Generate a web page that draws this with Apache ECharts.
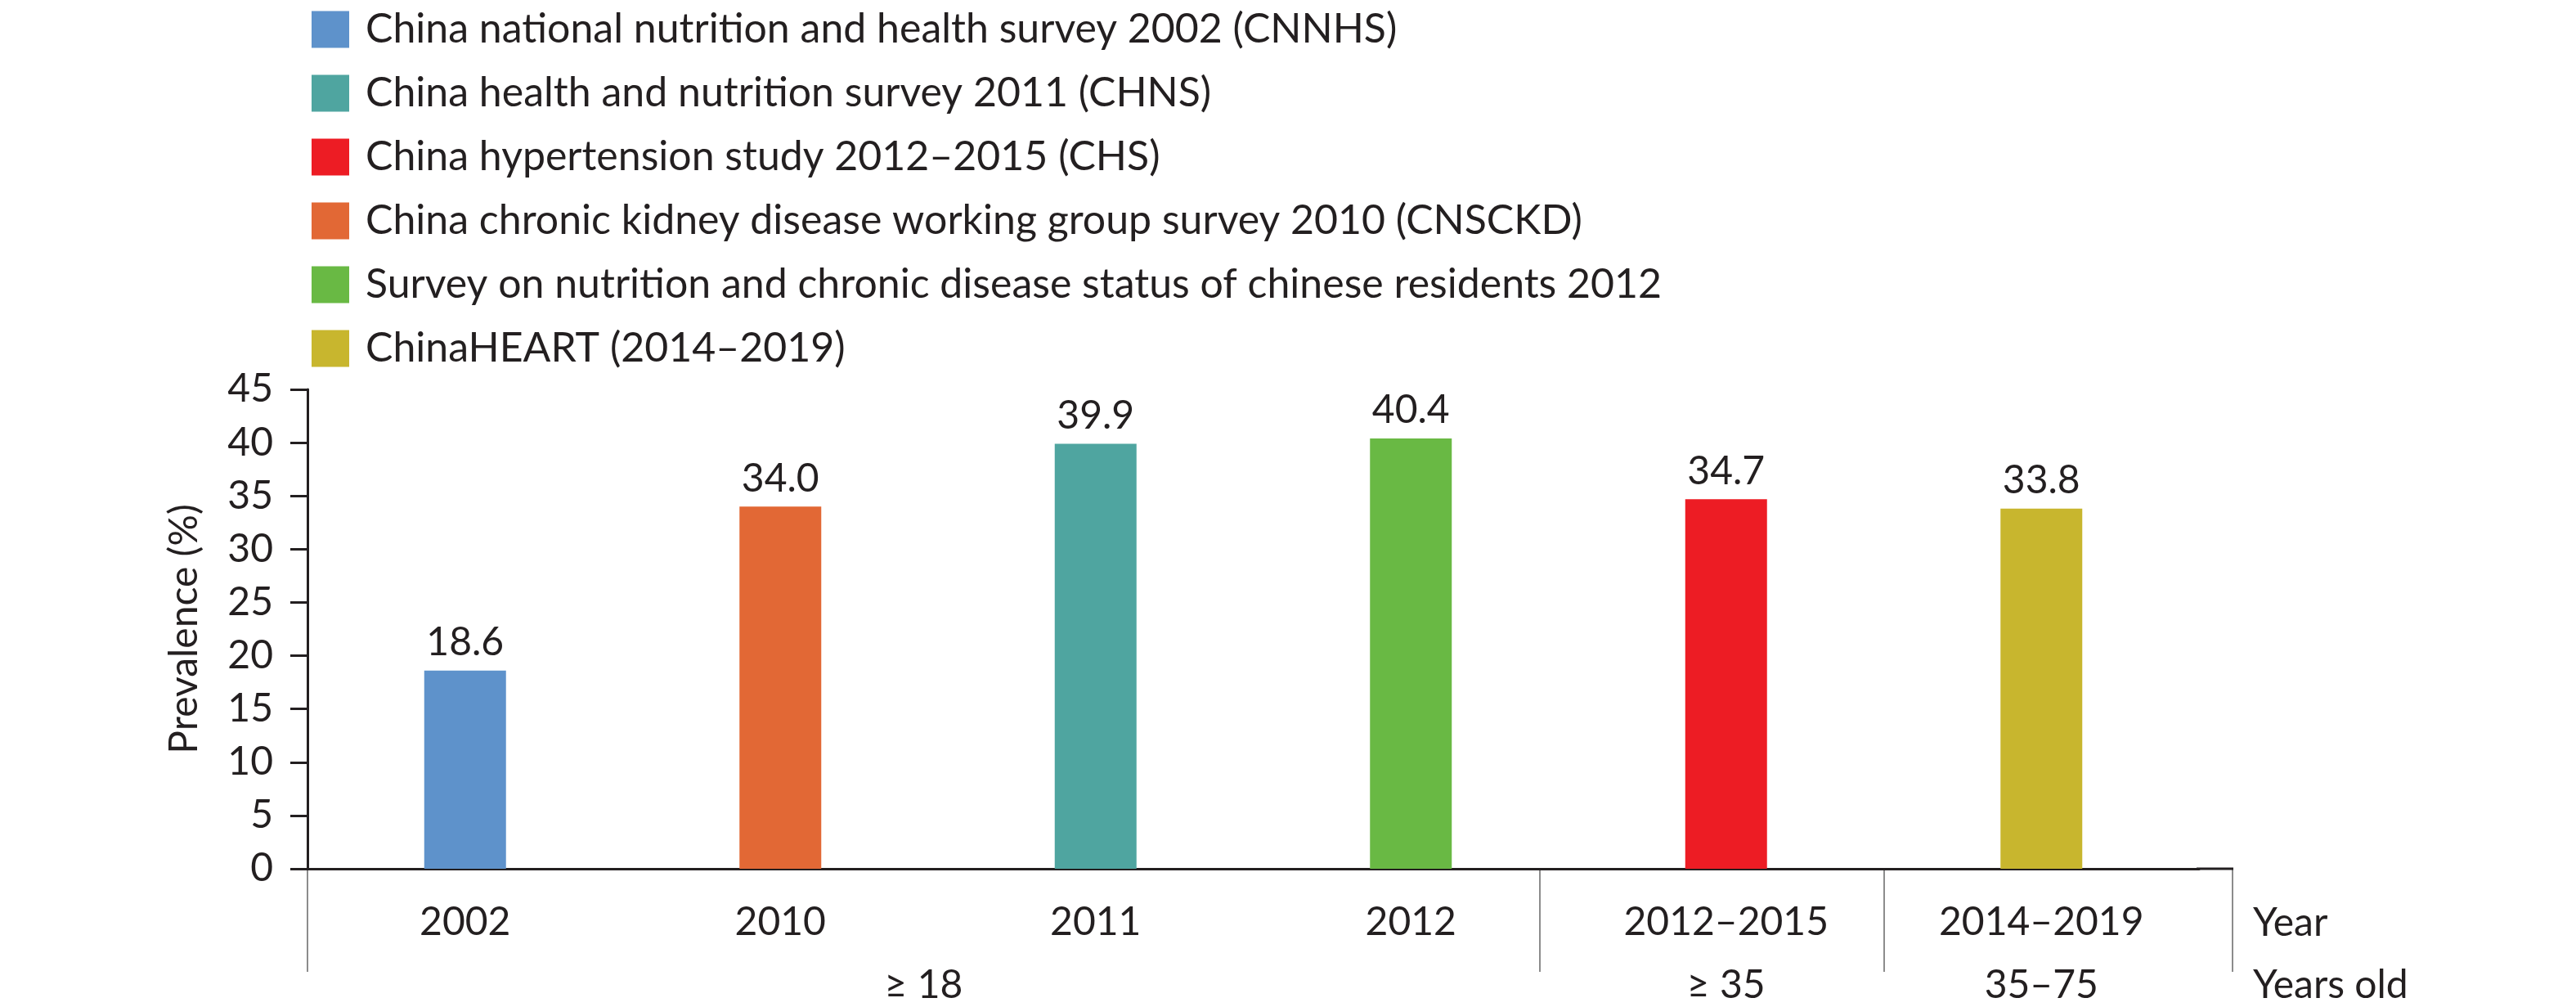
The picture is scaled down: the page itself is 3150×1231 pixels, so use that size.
<!DOCTYPE html>
<html>
<head>
<meta charset="utf-8">
<title>Prevalence</title>
<script src="https://cdn.jsdelivr.net/npm/echarts@6/dist/echarts.min.js"></script>
<style>
  html, body { margin: 0; padding: 0; background: #fff; }
  #main { width: 3150px; height: 1231px; }
</style>
</head>
<body>
<div id="main"></div>
<script>
// categories (survey year)
var years = ['2002', '2010', '2011', '2012', '2012\u20132015', '2014\u20132019'];
// prevalence values (%)
var prevalence = [18.6, 34.0, 39.9, 40.4, 34.7, 33.8];
// survey name for each bar
var surveys = [
	'China national nutrition and health survey 2002 (CNNHS)',
	'China chronic kidney disease working group survey 2010 (CNSCKD)',
	'China health and nutrition survey 2011 (CHNS)',
	'Survey on nutrition and chronic disease status of chinese residents 2012',
	'China hypertension study 2012\u20132015 (CHS)',
	'ChinaHEART (2014\u20132019)'
];
var colors = ['#5E92CB', '#E26835', '#4FA5A0', '#69B944', '#ED1C24', '#C8B62E'];
// legend order
var legendOrder = [surveys[0], surveys[2], surveys[4], surveys[1], surveys[3], surveys[5]];
// age groups: label, first and last category
var ageLabels = ['\u2265 18', '\u2265 35', '35\u201375'];
var ageFrom = [0, 4, 5];
var ageTo = [3, 4, 5];
// y ticks
var yMin = 0, yMax = 45, yStep = 5;

var font = 'Lato';
var ink = '#231F20';
var grey = '#8C8C8C';

var myChart = echarts.init(document.getElementById('main'));

//one series per survey so legend gets its own entry
var seriesList = [];
for (var i = 0; i < years.length; i++) {
	var d = [];
	for (var j = 0; j < years.length; j++) {
		d.push(j === i ? prevalence[i] : '-');
	}
	seriesList.push({
		name: surveys[i],
		type: 'bar',
		data: d,
		barWidth: 100,
		barGap: '-100%',
		itemStyle: { color: colors[i] },
		label: {
			show: true,
			position: 'top',
			distance: 10,
			fontFamily: font,
			fontSize: 48,
			color: ink,
			formatter: function (p) { return p.value.toFixed(1); }
		}
	});
}

var option = {
	animation: false,
	backgroundColor: '#fff',
	legend: {
		orient: 'vertical',
		left: 376,
		top: 6,
		itemWidth: 46,
		itemHeight: 45,
		itemGap: 28,
		icon: 'rect',
		data: legendOrder,
		textStyle: {
			fontFamily: font,
			fontSize: 50,
			color: ink,
			padding: [0, 0, 0, 15]
		}
	},
	grid: {
		left: 376,
		right: 461,
		top: 476,
		bottom: 169
	},
	xAxis: {
		type: 'category',
		data: years,
		axisLine: { lineStyle: { color: ink, width: 3 } },
		axisTick: { alignWithLabel: true, length: 14, lineStyle: { color: ink, width: 2 } },
		axisLabel: { fontFamily: font, fontSize: 48, color: ink, margin: 42 }
	},
	yAxis: {
		type: 'value',
		min: yMin,
		max: yMax,
		interval: yStep,
		name: 'Prevalence (%)',
		nameLocation: 'middle',
		nameGap: 126,
		nameRotate: 90,
		nameTextStyle: { fontFamily: font, fontSize: 48, color: ink },
		splitLine: { show: false },
		axisLine: { show: true, lineStyle: { color: ink, width: 3 } },
		axisTick: { show: true, length: 21, lineStyle: { color: ink, width: 3 } },
		axisLabel: { fontFamily: font, fontSize: 48, color: ink, margin: 42 }
	},
	series: seriesList
};
myChart.setOption(option);

//table lines and second row of labels under the axis
var y0 = myChart.convertToPixel({ yAxisIndex: 0 }, 0);
var rowBottom = 1188;
var dividers = [376, 1883, 2304, 2730];
var graphics = [];
for (var k = 0; k < dividers.length; k++) {
	graphics.push({
		type: 'line',
		shape: { x1: dividers[k], y1: y0, x2: dividers[k], y2: rowBottom },
		style: { stroke: grey, lineWidth: 2 }
	});
}
graphics.push({
	type: 'line',
	shape: { x1: 2686, y1: y0, x2: 2731, y2: y0 },
	style: { stroke: ink, lineWidth: 3 }
});
for (var g = 0; g < ageLabels.length; g++) {
	var cx;
	if (g === 0) {
		cx = (dividers[0] + dividers[1]) / 2;
	} else {
		cx = (myChart.convertToPixel({ xAxisIndex: 0 }, ageFrom[g]) + myChart.convertToPixel({ xAxisIndex: 0 }, ageTo[g])) / 2;
	}
	graphics.push({
		type: 'text',
		x: cx,
		y: 1205,
		style: { text: ageLabels[g], font: '48px ' + font, fill: ink, align: 'center', verticalAlign: 'middle' }
	});
}
graphics.push({
	type: 'text', x: 2755, y: 1129,
	style: { text: 'Year', font: '48px ' + font, fill: ink, align: 'left', verticalAlign: 'middle' }
});
graphics.push({
	type: 'text', x: 2755, y: 1205,
	style: { text: 'Years old', font: '48px ' + font, fill: ink, align: 'left', verticalAlign: 'middle' }
});
myChart.setOption({ graphic: graphics });
</script>
</body>
</html>
